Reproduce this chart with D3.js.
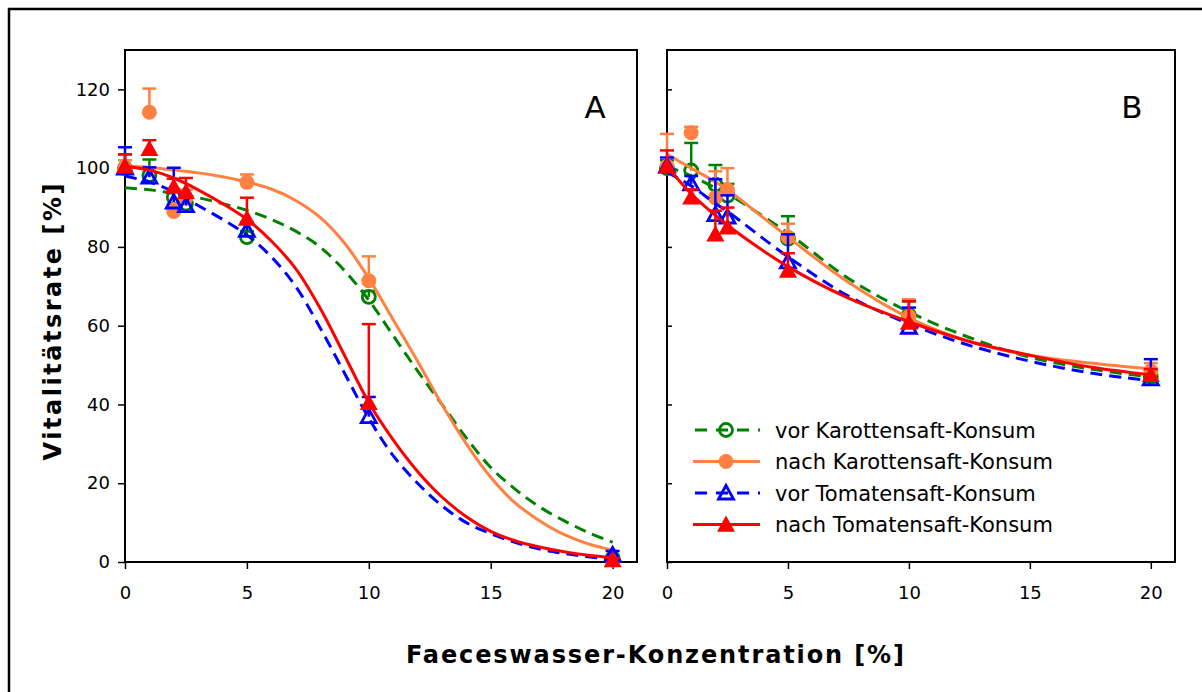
<!DOCTYPE html>
<html>
<head>
<meta charset="utf-8">
<script src="https://cdn.jsdelivr.net/npm/d3@7"></script>
<style>
  body { margin: 0; background: #fff; }
  text { font-family: "DejaVu Sans", Verdana, sans-serif; fill: #000; }
</style>
</head>
<body>
<div id="chart"></div>
<script>
// concentrations of the measured points
var conc = [0, 1, 2, 2.5, 5, 10, 20];

// panel A: measured means and upper error
var vorKarA = [100, 98.2, 92.6, 91, 82.5, 67.3, 1];
var vorKarAErr = [3.5, 4, 2, 1.5, 1.5, 1.5, 0.5];
var nachKarA = [100, 114.2, 89, 92.5, 96.4, 71.4, 0.5];
var nachKarAErr = [2, 6, 2, 2, 2, 6.2, 0.5];
var vorTomA = [100, 97.7, 91.4, 90.5, 84.2, 36.9, 1.8];
var vorTomAErr = [5.3, 2.5, 8.7, 2, 2, 5, 1];
var nachTomA = [100.5, 104.9, 95.3, 94, 87.2, 40.4, 0.5];
var nachTomAErr = [3, 2.2, 2, 3.5, 5.3, 20, 0.5];

// panel B
var vorKarB = [100, 99.4, 95.8, 93, 82.1, 62.7, 47];
var vorKarBErr = [2, 7, 5, 3, 5.7, 3.5, 2];
var nachKarB = [100.5, 109, 92.5, 94.5, 82.5, 62.4, 48.5];
var nachKarBErr = [8.2, 1.5, 6.7, 5.5, 3.4, 4.3, 2];
var vorTomB = [100.5, 96, 88.2, 87.6, 76.2, 59.6, 46.5];
var vorTomBErr = [2.2, 2, 9, 5.5, 7, 5, 5];
var nachTomB = [100.5, 92.6, 83.2, 85, 74, 60.8, 47.5];
var nachTomBErr = [4, 2, 6, 5, 4.4, 5.4, 1.5];

// fitted curves
var fitXA = [0, 1, 2, 3, 4, 5, 6, 7, 8, 9, 10, 11, 12, 13, 14, 15, 16, 17, 18, 19, 20];
var fitVorKarA = [95, 94.5, 93.6, 92.5, 91, 89.3, 87, 84, 80, 74, 66.5, 57.5, 48.5, 40, 31.5, 24, 18.5, 14, 10.5, 7.5, 5];
var fitNachKarA = [100.5, 100.2, 99.5, 98.8, 97.8, 96.5, 94.7, 91.8, 87.5, 81, 72, 61.5, 51, 40, 30, 21.5, 15, 10.5, 7, 4.6, 3];
var fitVorTomA = [98, 96.5, 94, 90.5, 87, 83, 77.5, 70, 59.5, 48, 36.5, 27, 20, 14.3, 10, 7.2, 5, 3.3, 2.2, 1.3, 0.7];
var fitNachTomA = [100.5, 99.5, 97.5, 94.5, 91, 87, 81.5, 74.5, 64.5, 52.5, 40.5, 31, 23, 16.5, 11.5, 7.8, 5.4, 3.8, 2.6, 1.7, 1.1];

var fitXB = [0, 1, 2, 2.5, 5, 7.5, 10, 12.5, 15, 17.5, 20];
var fitVorKarB = [100.5, 98, 95, 93.5, 83.5, 72, 63.5, 57, 52, 49, 47];
var fitNachKarB = [103.5, 100, 96.5, 94.5, 82.5, 71, 62, 56, 52.5, 50.5, 49];
var fitVorTomB = [99, 95.5, 91, 89, 77.5, 67.5, 60.5, 55, 51, 48, 46];
var fitNachTomB = [100.5, 93.5, 88, 85.5, 75, 67, 61, 56, 52.5, 49.5, 47.5];

var xTicks = [0, 5, 10, 15, 20];
var yTicks = [0, 20, 40, 60, 80, 100, 120];

var seriesNames = ["vor Karottensaft-Konsum", "nach Karottensaft-Konsum",
  "vor Tomatensaft-Konsum", "nach Tomatensaft-Konsum"];

var svgWidth = 1202;
var svgHeight = 692;

var styles = [
  { color: "#008000", dash: "12,7", marker: "circle", filled: false },
  { color: "#ff8040", dash: null, marker: "circle", filled: true },
  { color: "#0000ff", dash: "12,7", marker: "triangle", filled: false },
  { color: "#ff0000", dash: null, marker: "triangle", filled: true }
];

var panels = [
  {
    left: 125, right: 637, label: "A", labelX: 595, yLabels: true,
    fitX: fitXA,
    series: [
      { y: vorKarA, err: vorKarAErr, fit: fitVorKarA },
      { y: nachKarA, err: nachKarAErr, fit: fitNachKarA },
      { y: vorTomA, err: vorTomAErr, fit: fitVorTomA },
      { y: nachTomA, err: nachTomAErr, fit: fitNachTomA }
    ]
  },
  {
    left: 667, right: 1175, label: "B", labelX: 1132, yLabels: false,
    fitX: fitXB,
    series: [
      { y: vorKarB, err: vorKarBErr, fit: fitVorKarB },
      { y: nachKarB, err: nachKarBErr, fit: fitNachKarB },
      { y: vorTomB, err: vorTomBErr, fit: fitVorTomB },
      { y: nachTomB, err: nachTomBErr, fit: fitNachTomB }
    ]
  }
];

var plotTop = 50;
var plotBottom = 562;

var svg = d3.select("#chart")
  .append("svg")
  .attr("width", svgWidth)
  .attr("height", svgHeight);

// outer frame, runs off right and bottom
svg.append("rect")
  .attr("x", 9)
  .attr("y", 9)
  .attr("width", 1210)
  .attr("height", 700)
  .attr("fill", "none")
  .attr("stroke", "#000")
  .attr("stroke-width", 2.5);

var yScale = d3.scaleLinear()
  .domain([0, 130])
  .range([plotBottom, plotTop]);

function drawMarker(g, type, filled, color, cx, cy) {
  if (type === "circle") {
    g.append("circle")
      .attr("cx", cx)
      .attr("cy", cy)
      .attr("r", filled ? 7.5 : 6.5)
      .attr("fill", filled ? color : "none")
      .attr("stroke", color)
      .attr("stroke-width", filled ? 0 : 2.8);
  } else {
    var s = filled ? 9 : 7.5;
    g.append("path")
      .attr("d", "M" + cx + "," + (cy - s) + "L" + (cx + s) + "," + (cy + s * 0.8) +
        "L" + (cx - s) + "," + (cy + s * 0.8) + "Z")
      .attr("fill", filled ? color : "none")
      .attr("stroke", color)
      .attr("stroke-width", filled ? 0 : 2.8);
  }
}

panels.forEach(function(p) {
  var xScale = d3.scaleLinear()
    .domain([0, 21])
    .range([p.left, p.right]);

  var g = svg.append("g");

  // frame of the panel
  g.append("rect")
    .attr("x", p.left)
    .attr("y", plotTop)
    .attr("width", p.right - p.left)
    .attr("height", plotBottom - plotTop)
    .attr("fill", "none")
    .attr("stroke", "#000")
    .attr("stroke-width", 2);

  // x axis
  var xAxis = g.append("g")
    .attr("transform", `translate(0, ${plotBottom})`)
    .call(d3.axisBottom(xScale).tickValues(xTicks).tickSize(7).tickPadding(17));
  xAxis.select(".domain").remove();
  xAxis.selectAll("line").attr("stroke-width", 1.5);
  xAxis.selectAll("text")
    .style("font-size", "18px")
    .style("font-family", "DejaVu Sans, sans-serif");

  // y axis
  var yAxis;
  if (p.yLabels) {
    yAxis = g.append("g")
      .attr("transform", `translate(${p.left}, 0)`)
      .call(d3.axisLeft(yScale).tickValues(yTicks).tickSize(7).tickPadding(8));
  } else {
    yAxis = g.append("g")
      .attr("transform", `translate(${p.left}, 0)`)
      .call(d3.axisRight(yScale).tickValues(yTicks).tickSize(5).tickFormat(""));
  }
  yAxis.select(".domain").remove();
  yAxis.selectAll("line").attr("stroke-width", 1.5);
  yAxis.selectAll("text")
    .style("font-size", "18px")
    .style("font-family", "DejaVu Sans, sans-serif");

  // panel letter
  g.append("text")
    .attr("x", p.labelX)
    .attr("y", 118)
    .attr("text-anchor", "middle")
    .style("font-size", "31px")
    .text(p.label);

  var line = d3.line()
    .x(function(d) { return xScale(d[0]); })
    .y(function(d) { return yScale(d[1]); })
    .curve(d3.curveCatmullRom.alpha(0.5));

  p.series.forEach(function(s, i) {
    var st = styles[i];
    var sg = g.append("g");

    sg.append("path")
      .attr("d", line(p.fitX.map(function(x, k) { return [x, s.fit[k]]; })))
      .attr("fill", "none")
      .attr("stroke", st.color)
      .attr("stroke-width", 3)
      .attr("stroke-dasharray", st.dash);

    // error bars, upper side only
    conc.forEach(function(c, k) {
      var cx = xScale(c);
      var y0 = yScale(s.y[k]);
      var y1 = yScale(s.y[k] + s.err[k]);
      sg.append("line")
        .attr("x1", cx).attr("x2", cx)
        .attr("y1", y0).attr("y2", y1)
        .attr("stroke", st.color)
        .attr("stroke-width", 2.5);
      sg.append("line")
        .attr("x1", cx - 7).attr("x2", cx + 7)
        .attr("y1", y1).attr("y2", y1)
        .attr("stroke", st.color)
        .attr("stroke-width", 2.5);
    });

    conc.forEach(function(c, k) {
      drawMarker(sg, st.marker, st.filled, st.color, xScale(c), yScale(s.y[k]));
    });
  });
});

// legend inside panel B
var legend = svg.append("g");
seriesNames.forEach(function(name, i) {
  var st = styles[i];
  var ly = 430 + i * 31.5;
  legend.append("line")
    .attr("x1", 693).attr("x2", 760)
    .attr("y1", ly).attr("y2", ly)
    .attr("stroke", st.color)
    .attr("stroke-width", 3)
    .attr("stroke-dasharray", st.dash ? "12,9" : null)
    .attr("stroke-dashoffset", st.dash ? -2 : null);
  drawMarker(legend, st.marker, st.filled, st.color, 726, ly);
  legend.append("text")
    .attr("x", 775)
    .attr("y", ly)
    .attr("dy", "0.36em")
    .style("font-size", "21px")
    .text(name);
});

// axis titles
svg.append("text")
  .attr("x", 655)
  .attr("y", 663)
  .attr("text-anchor", "middle")
  .attr("textLength", 498)
  .style("font-size", "24px")
  .style("font-weight", "bold")
  .text("Faeceswasser-Konzentration [%]");

svg.append("text")
  .attr("transform", "translate(61, 322) rotate(-90)")
  .attr("text-anchor", "middle")
  .attr("textLength", 277)
  .style("font-size", "24px")
  .style("font-weight", "bold")
  .text("Vitalitätsrate [%]");
</script>
</body>
</html>
